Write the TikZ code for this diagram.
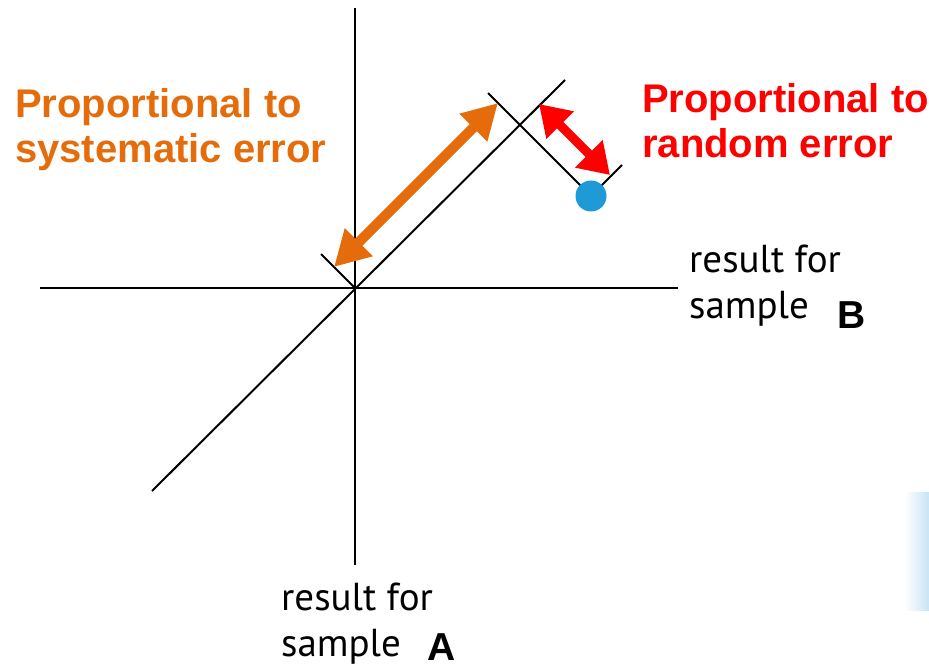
\documentclass[tikz,border=0pt]{standalone}
\usepackage{fontspec}
\setmainfont{Liberation Sans}
\newfontfamily\axisfont{PT Sans}
\usetikzlibrary{arrows.meta}
\definecolor{sysorange}{HTML}{E46C0A}
\definecolor{randred}{HTML}{FF0000}
\definecolor{dotblue}{HTML}{1E9AD6}
\definecolor{paleblue}{HTML}{C8E4F5}
\begin{document}
\begin{tikzpicture}[x=1pt,y=-1pt,
  axisline/.style={line width=2.2pt, black},
  thinline/.style={line width=2pt, black},
  sysarrow/.style={line width=10pt, sysorange, {Triangle[length=35pt,width=37pt]}-{Triangle[length=35pt,width=37pt]}},
  randarrow/.style={line width=9pt, randred, {Triangle[length=30pt,width=37pt]}-{Triangle[length=30pt,width=37pt]}},
  biglabel/.style={inner sep=0pt, anchor=north west, align=left, font=\fontsize{40}{45.5}\selectfont\bfseries},
  axislabel/.style={inner sep=0pt, anchor=north west, align=left, font=\axisfont\fontsize{39}{46}\selectfont},
  letter/.style={inner sep=0pt, anchor=base west, font=\fontsize{39}{39}\selectfont\bfseries}]
\useasboundingbox (0,0) rectangle (929,668);
% faint background shape at right edge
\shade[left color=white, right color=paleblue] (904,492) rectangle (929,610);
% axes
\coordinate (vtop) at (355,8);
\coordinate (vbot) at (355,565);
\coordinate (hleft) at (40,288);
\coordinate (hright) at (678,288);
\coordinate (O) at (355,288);
\coordinate (dlow) at (152,491);
\coordinate (dhigh) at (565,80);
\draw[axisline] (vtop) -- (vbot);
\draw[axisline] (hleft) -- (hright);
\draw[thinline] (dlow) -- (dhigh);
% perpendiculars
\coordinate (pO) at (321,254);
\coordinate (ptop) at (488,93);
\coordinate (pdot) at (591,196);
\coordinate (pdotend) at (622,165);
\draw[thinline] (pO) -- (O);
\draw[thinline] (ptop) -- (pdot);
\draw[thinline] (pdot) -- (pdotend);
% blue dot
\node[circle, fill=dotblue, minimum size=31pt, inner sep=0pt] (dot) at (pdot) {};
% arrows
\coordinate (sysA) at (334,267);
\coordinate (sysB) at (498,103);
\draw[sysarrow] (sysA) -- (sysB);
\coordinate (randA) at (539,104);
\coordinate (randB) at (610,175);
\draw[randarrow] (randA) -- (randB);
% labels
\node[biglabel, text=sysorange] (syslabel) at (15,88) {Proportional to\\systematic error};
\node[biglabel, text=randred] (randlabel) at (642,83) {Proportional to\\random error};
\node[axislabel] (blabel) at (689,245) {result for\\sample};
\node[letter] (bletter) at (837,329) {B};
\node[axislabel] (alabel) at (281,583) {result for\\sample};
\node[letter] (aletter) at (427,660) {A};
\end{tikzpicture}
\end{document}
